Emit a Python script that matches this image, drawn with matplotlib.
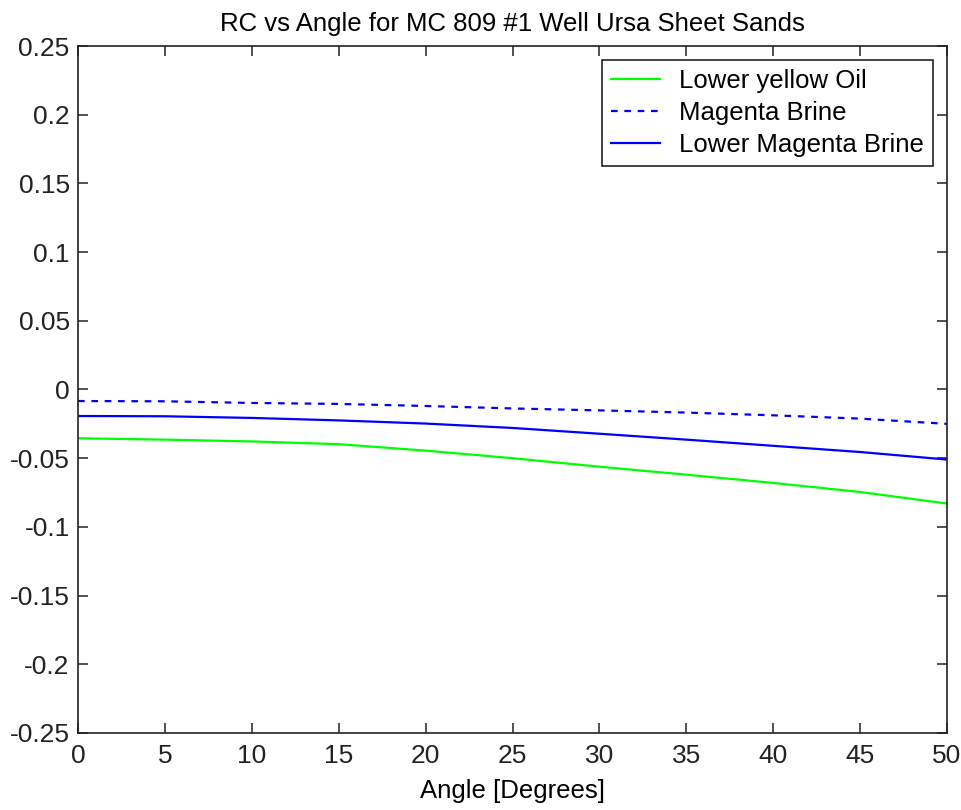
import matplotlib.pyplot as plt

plt.rcParams['font.family'] = ['Liberation Sans', 'DejaVu Sans']

# Data
angles = [0, 5, 10, 15, 20, 25, 30, 35, 40, 45, 50]
lower_yellow_oil = [-0.0355, -0.0365, -0.0378, -0.0398, -0.0445, -0.0500,
                    -0.0562, -0.0620, -0.0680, -0.0746, -0.0830]
magenta_brine = [-0.0084, -0.0086, -0.0098, -0.0105, -0.0120, -0.0138,
                 -0.0152, -0.0168, -0.0188, -0.0212, -0.0250]
lower_magenta_brine = [-0.0193, -0.0195, -0.0207, -0.0225, -0.0248, -0.0280,
                       -0.0322, -0.0365, -0.0410, -0.0455, -0.0510]

xticks = list(range(0, 55, 5))
yticks = [-0.25, -0.2, -0.15, -0.1, -0.05, 0, 0.05, 0.1, 0.15, 0.2, 0.25]
ytick_labels = ['-0.25', '-0.2', '-0.15', '-0.1', '-0.05', '0',
                '0.05', '0.1', '0.15', '0.2', '0.25']

fig = plt.figure(figsize=(9.61, 8.1), dpi=100)
ax = fig.add_axes([0.0812, 0.0951, 0.9042, 0.8481])

ax.plot(angles, lower_yellow_oil, color='#00ff00', lw=1.6, label='Lower yellow Oil')
ax.plot(angles, magenta_brine, color='#0000ff', lw=1.6, ls=(0, (3, 3)), label='Magenta Brine')
ax.plot(angles, lower_magenta_brine, color='#0000ff', lw=1.6, label='Lower Magenta Brine')

ax.set_xlim(0, 50)
ax.set_ylim(-0.25, 0.25)
ax.set_xticks(xticks)
ax.set_yticks(yticks)
ax.set_yticklabels(ytick_labels)
ax.tick_params(direction='in', length=7, width=1.1, labelsize=19, top=True, right=True,
               colors='#222222')
ax.tick_params(axis='y', pad=6)
ax.tick_params(axis='x', pad=8)
for s in ax.spines.values():
    s.set_linewidth(1.2)
    s.set_color('#222222')

ax.set_xlabel('Angle [Degrees]', fontsize=18.5, labelpad=8)
ax.set_title('RC vs Angle for MC 809 #1 Well Ursa Sheet Sands', fontsize=18.5, pad=11)

leg = ax.legend(loc='upper right', fontsize=18.5, fancybox=False, edgecolor='#222222',
                framealpha=1, handlelength=1.9, handletextpad=0.75, borderpad=0.35,
                borderaxespad=0.55, labelspacing=0.3)
leg.get_frame().set_linewidth(1.2)

fig.savefig('out.png', dpi=100)
